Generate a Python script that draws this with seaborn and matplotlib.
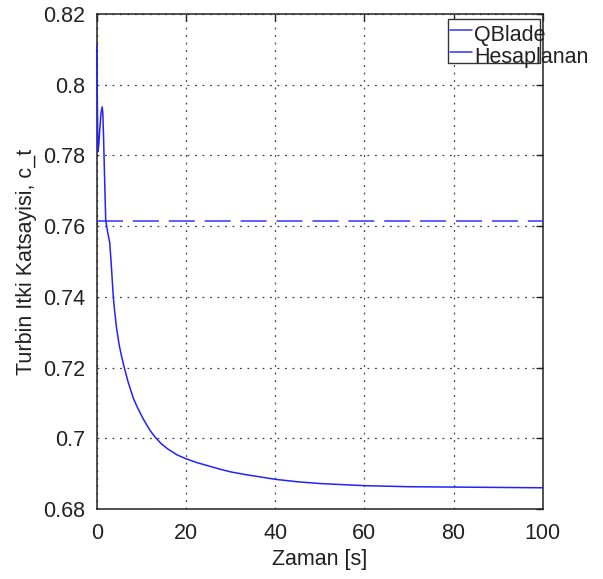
import matplotlib
matplotlib.use("Agg")
import matplotlib.pyplot as plt
from matplotlib.lines import Line2D
from matplotlib.patches import Rectangle
import numpy as np
import pandas as pd
import seaborn as sns

# ---- data ----
time_s = [0, 0.1, 0.25, 0.45, 0.7, 0.95, 1.2, 1.35, 1.5, 1.7, 2.0, 2.4, 2.9, 3.2, 3.5,
          3.7, 4.0, 4.4, 5.0, 5.5, 6.1, 7.0, 8.2, 9.0, 10.4, 11.9, 13.1, 14.5, 16,
          18, 20, 22.5, 25, 27.5, 30, 33, 36, 40, 45, 50, 55, 60, 70, 80, 90, 100]
ct_hesaplanan = [0.811, 0.797, 0.781, 0.783, 0.788, 0.792, 0.7937, 0.792, 0.786, 0.776,
                 0.7617, 0.7585, 0.7553, 0.7500, 0.7440, 0.7400, 0.7360, 0.7315, 0.7265,
                 0.7235, 0.7203, 0.7160, 0.7113, 0.7090, 0.7055, 0.7023, 0.7003,
                 0.6984, 0.6969, 0.6953, 0.6942, 0.6931, 0.6922, 0.6913, 0.6905, 0.6898,
                 0.6892, 0.6884, 0.6877, 0.6872, 0.6869, 0.6866, 0.6863, 0.6862, 0.6861,
                 0.6860]
qblade_time = [0, 100]
qblade_ct = [0.7614, 0.7614]
legend_labels = ["QBlade", "Hesaplanan"]
xticks = [0, 20, 40, 60, 80, 100]
yticks = [0.68, 0.70, 0.72, 0.74, 0.76, 0.78, 0.80, 0.82]
ytick_labels = ["0.68", "0.7", "0.72", "0.74", "0.76", "0.78", "0.8", "0.82"]

sns.set_style("white")
plt.rcParams['font.family'] = ['Liberation Sans', 'DejaVu Sans']

W, H = 603, 579
fig = plt.figure(figsize=(W / 100, H / 100), dpi=100)
L, R, T, B = 96.8, 542.7, 13.9, 509.0
ax = fig.add_axes([L / W, 1 - B / H, (R - L) / W, (B - T) / H])

df_calc = pd.DataFrame({"t": time_s, "ct": ct_hesaplanan})
df_qb = pd.DataFrame({"t": qblade_time, "ct": qblade_ct})

sns.lineplot(data=df_qb, x="t", y="ct", ax=ax, color="#3333ff", lw=1.1,
             estimator=None, sort=False, zorder=3)
ax.lines[-1].set_dashes((17, 6.5))
sns.lineplot(data=df_calc, x="t", y="ct", ax=ax, color="#2222ff", lw=1.1,
             estimator=None, sort=False, zorder=3)
for ln in ax.lines:
    ln.set_clip_on(False)
    ln.set_solid_joinstyle('round')

ax.set_xlim(0, 100)
ax.set_ylim(0.68, 0.82)
ax.set_xticks(xticks)
ax.set_xticklabels([str(v) for v in xticks])
ax.set_yticks(yticks)
ax.set_yticklabels(ytick_labels)

fs = 15.5
ax.tick_params(axis='both', which='both', direction='in', length=5, width=1,
               color='#222222', labelsize=fs, labelcolor='#222222',
               top=True, right=True)
ax.tick_params(axis='y', pad=8.5)
ax.tick_params(axis='x', pad=10)

ax.grid(True, color='#444444', linestyle=(0, (1.5, 4.5)), lw=0.9)
ax.set_axisbelow(True)
for sp in ax.spines.values():
    sp.set_visible(True)
    sp.set_color('#222222')
    sp.set_linewidth(1.1)
    sp.set_zorder(2.5)

ax.set_xlabel("Zaman [s]", fontsize=fs, color='#222222')
ax.set_ylabel("Turbin Itki Katsayisi, c_t", fontsize=fs, color='#222222')
ax.xaxis.set_label_coords(0.5, (B - 549) / (B - T))
ax.yaxis.set_label_coords((37 - L) / (R - L), 0.5)

# Legend (Octave-style, text overflowing the frame)
def fx(px):
    return px / W

def fy(py):
    return 1 - py / H

fig.patches.append(Rectangle((fx(448), fy(63)), fx(540) - fx(448), fy(19) - fy(63),
                             transform=fig.transFigure, fill=True, facecolor='white',
                             edgecolor='#333333', lw=1.0, zorder=5))
for i, lab in enumerate(legend_labels):
    yl = [30, 52][i]
    yb = [41.5, 62.5][i]
    fig.lines.append(Line2D([fx(450), fx(472)], [fy(yl), fy(yl)],
                            transform=fig.transFigure, color='#3333ff', lw=1.1, zorder=6))
    fig.text(fx(474), fy(yb), lab, fontsize=fs, color='#222222', va='baseline',
             ha='left', zorder=7)

fig.savefig("out.png", dpi=100)
